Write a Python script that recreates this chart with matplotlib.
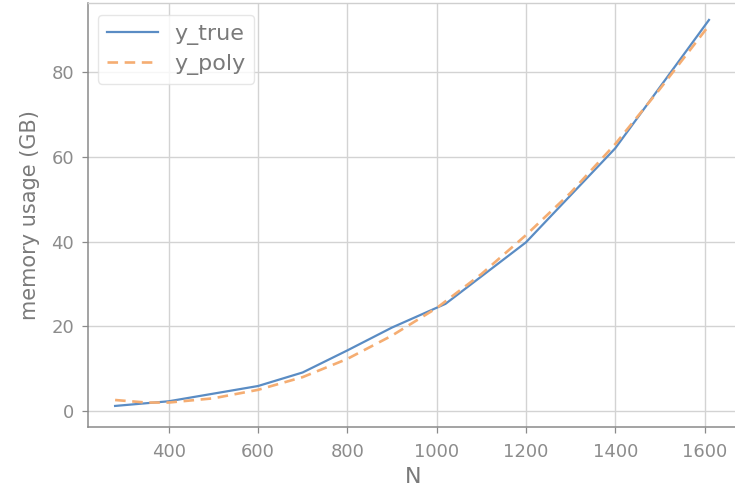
import matplotlib
matplotlib.use("Agg")
import matplotlib.pyplot as plt

# data
n_true = [280, 400, 600, 700, 800, 900, 1020, 1200, 1400, 1610]
y_true = [1.2, 2.3, 5.9, 9.1, 14.3, 19.7, 25.3, 39.8, 62.0, 92.3]

n_poly = [280, 350, 400, 500, 600, 700, 800, 900, 1000, 1100, 1200, 1300, 1400, 1500, 1610]
y_poly = [2.6, 2.0, 2.0, 3.0, 5.0, 8.0, 12.3, 17.8, 24.3, 32.3, 41.5, 51.5, 63.0, 76.0, 91.0]

x_ticks = [400, 600, 800, 1000, 1200, 1400, 1600]
y_ticks = [0, 20, 40, 60, 80]

plt.rcParams['font.family'] = ['DejaVu Sans']
text_color = '#8c8c8c'

fig = plt.figure(figsize=(7.35, 4.95), dpi=100)
ax = fig.add_axes([88/735, (495-426.7)/495, (738-88)/735, (426.7-3)/495])

ax.plot(n_true, y_true, color='#5a8cc4', lw=1.6, label='y_true')
ax.plot(n_poly, y_poly, color='#f5ad72', lw=1.9, ls='--', dashes=(4, 2.5), label='y_poly')

ax.set_xlim(219.3, 1675)
ax.set_ylim(-3.7, 96.3)
ax.set_xticks(x_ticks)
ax.set_yticks(y_ticks)
ax.grid(True, color='#d3d3d3', lw=1.0)
ax.set_axisbelow(True)

for side in ['left', 'bottom']:
    ax.spines[side].set_color('#8a8a8a')
    ax.spines[side].set_linewidth(1.1)
for side in ['top', 'right']:
    ax.spines[side].set_color('#cfcfcf')
    ax.spines[side].set_linewidth(1.0)

ax.tick_params(axis='both', direction='out', length=4, width=0.9, color='#8a8a8a',
               labelcolor=text_color, labelsize=13)
ax.tick_params(axis='x', pad=8)
ax.tick_params(axis='y', pad=6)

ax.set_xlabel('N', fontsize=16, color='#7a7a7a', labelpad=4)
ax.set_ylabel('memory usage (GB)', fontsize=15, color='#7a7a7a', labelpad=8)

leg = ax.legend(loc='upper left', fontsize=16, frameon=True, fancybox=True,
                borderpad=0.4, labelspacing=0.4, handlelength=2.3, handletextpad=0.72,
                borderaxespad=0, bbox_to_anchor=(0.0154, 0.972))
leg.get_frame().set_edgecolor('#e0e0e0')
leg.get_frame().set_linewidth(1.0)
for t in leg.get_texts():
    t.set_color('#7a7a7a')

fig.savefig('out.png', dpi=100)
